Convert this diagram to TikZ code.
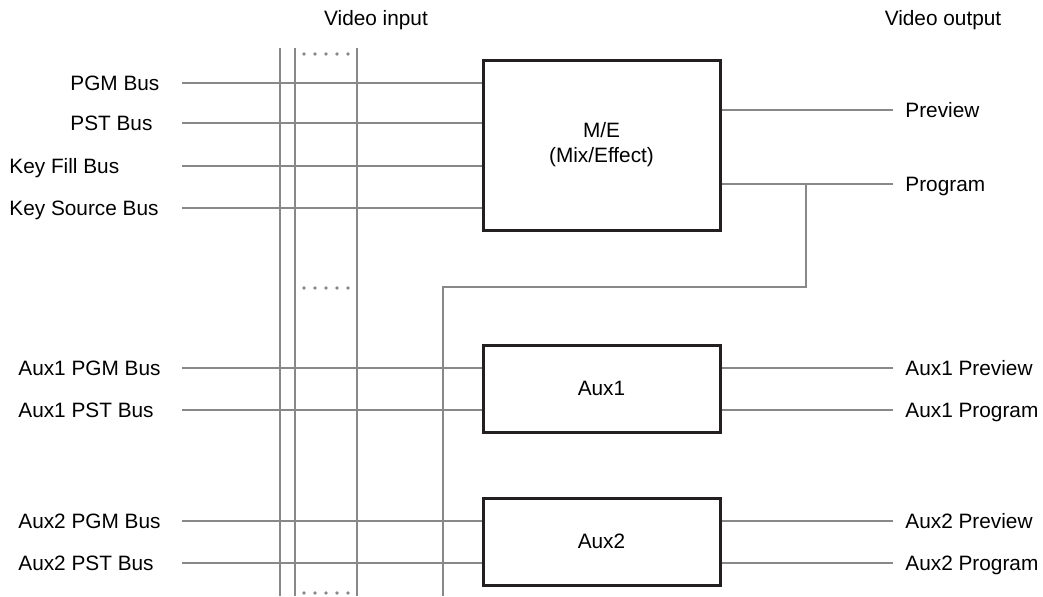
\documentclass[tikz,border=0pt]{standalone}
\usepackage{fontspec}
\setmainfont{Liberation Sans}
\usepackage{tikz}
\usetikzlibrary{calc}
\definecolor{busgray}{RGB}{136,136,136}
\definecolor{boxline}{RGB}{35,31,32}

\begin{document}
\begin{tikzpicture}[x=0.5pt, y=-0.5pt,
  bus/.style={busgray, line width=1.25pt},
  blk/.style={draw=boxline, line width=1.5pt, minimum width=118.5pt, inner sep=0pt,
    align=center, font=\fontsize{10.4}{12.5}\selectfont},
  lbl/.style={inner sep=0pt, anchor=base west, font=\fontsize{10.4}{12}\selectfont},
  head/.style={inner sep=0pt, font=\fontsize{10.4}{12}\selectfont}]
  \useasboundingbox (0,0) rectangle (1043,596);

  % headings
  \node[head] (vin) at (376,20) {Video input};
  \node[head] (vout) at (943,20) {Video output};

  % switcher blocks
  \node[blk, minimum height=85pt] (me) at (601.5,145) {M/E\\(Mix/Effect)};
  \node[blk, minimum height=43.5pt] (aux1) at (601.5,388.5) {Aux1};
  \node[blk, minimum height=43.5pt] (aux2) at (601.5,541.5) {Aux2};

  % input crosspoint columns
  \foreach \x in {280,295,357}
    \draw[bus] (\x,48) -- (\x,596);
  \foreach \y in {54,288,593}
    \foreach \x in {304,315,326,337,348}
      \fill[busgray] (\x,\y) circle (0.9pt);

  % input buses
  \foreach \y/\x/\txt in {83/70/PGM Bus, 123/70/PST Bus, 166/9/Key Fill Bus, 208/9/Key Source Bus}{
    \node[lbl] (in\y) at (\x,\y+7) {\txt};
    \coordinate (s\y) at (182,\y);
    \draw[bus] (s\y) -- (s\y -| me.west);
  }
  \foreach \y/\txt in {368/Aux1 PGM Bus, 410/Aux1 PST Bus}{
    \node[lbl] (in\y) at (18,\y+7) {\txt};
    \coordinate (s\y) at (182,\y);
    \draw[bus] (s\y) -- (s\y -| aux1.west);
  }
  \foreach \y/\txt in {521/Aux2 PGM Bus, 563/Aux2 PST Bus}{
    \node[lbl] (in\y) at (18,\y+7) {\txt};
    \coordinate (s\y) at (182,\y);
    \draw[bus] (s\y) -- (s\y -| aux2.west);
  }

  % outputs
  \foreach \y/\blk/\txt in {110/me/Preview, 184/me/Program, 368/aux1/Aux1 Preview,
      410/aux1/Aux1 Program, 521/aux2/Aux2 Preview, 563/aux2/Aux2 Program}{
    \coordinate (o\y) at (893,\y);
    \node[lbl] (out\y) at (905,\y+7) {\txt};
    \draw[bus] (o\y -| \blk.east) -- (o\y);
  }

  % program fed back to the inputs
  \coordinate (tap) at (806,184);
  \coordinate (fb) at (443,287);
  \draw[bus] (tap) |- (fb) -- (fb |- 0,596);
\end{tikzpicture}
\end{document}
